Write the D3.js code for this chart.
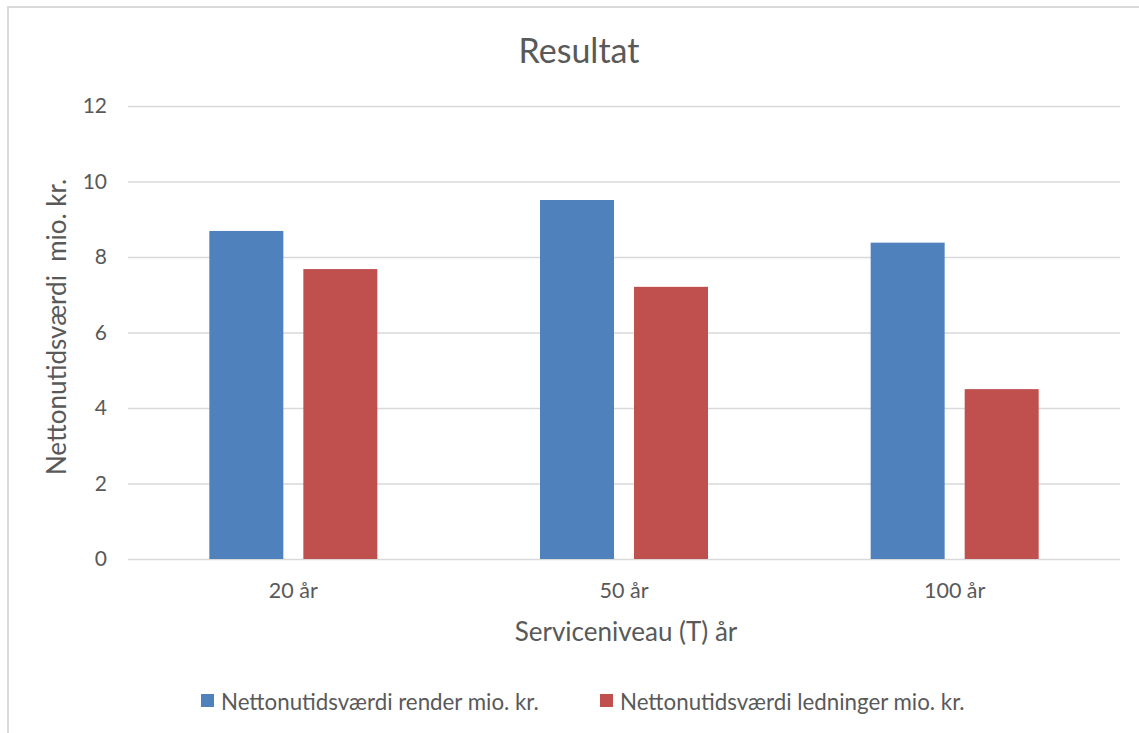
<!DOCTYPE html>
<html>
<head>
<meta charset="utf-8">
<script src="https://cdn.jsdelivr.net/npm/d3@7"></script>
<style>
  html, body { margin: 0; padding: 0; background: #fff; }
  svg { display: block; font-family: Lato, "Open Sans", sans-serif; }
</style>
</head>
<body>
<svg id="chart" width="1139" height="733"></svg>
<script>
// data
const categories = ["20 år", "50 år", "100 år"];
const seriesNames = ["Nettonutidsværdi render mio. kr.", "Nettonutidsværdi ledninger mio. kr."];
const renderValues = [8.69, 9.51, 8.38];
const ledningerValues = [7.68, 7.21, 4.50];
const yTicks = [0, 2, 4, 6, 8, 10, 12];
const colors = ["#4f81bd", "#c0504d"];

const svg = d3.select("#chart");
const plot = { left: 128, right: 1120, top: 106, bottom: 559 };
const fontFamily = "Lato, 'Open Sans', sans-serif";

// frame of the chart area (right and bottom edges run off the picture)
svg.append("rect")
    .attr("x", 8).attr("y", 7)
    .attr("width", 1150).attr("height", 760)
    .attr("fill", "none")
    .attr("stroke", "#d9d9d9")
    .attr("stroke-width", 2);

const x0 = d3.scaleBand()
    .domain(categories)
    .range([plot.left, plot.right]);

const groupW = 168;
const x1 = d3.scaleBand()
    .domain(seriesNames)
    .range([(x0.bandwidth() - groupW) / 2, (x0.bandwidth() + groupW) / 2])
    .paddingInner(0.213);

const y = d3.scaleLinear()
    .domain([0, 12])
    .range([plot.bottom, plot.top]);

// gridlines + y tick labels
const yAxis = d3.axisLeft(y)
    .tickValues(yTicks)
    .tickSize(-(plot.right - plot.left))
    .tickPadding(21);

const gy = svg.append("g")
    .attr("transform", "translate(" + plot.left + ",0)")
    .call(yAxis)
    .attr("font-family", fontFamily);
gy.select(".domain").remove();
gy.selectAll(".tick line")
    .attr("stroke", "#d9d9d9")
    .attr("stroke-width", 1.5);
gy.selectAll(".tick text")
    .attr("fill", "#595959")
    .style("font-size", "21px");

// bars
const table = categories.map((c, i) => ({
    cat: c,
    values: [
        { name: seriesNames[0], v: renderValues[i] },
        { name: seriesNames[1], v: ledningerValues[i] }
    ]
}));

svg.append("g").selectAll("g")
    .data(table)
    .join("g")
    .attr("transform", d => "translate(" + x0(d.cat) + ",0)")
    .selectAll("rect")
    .data(d => d.values)
    .join("rect")
    .attr("x", d => x1(d.name))
    .attr("y", d => y(d.v))
    .attr("width", x1.bandwidth())
    .attr("height", d => y(0) - y(d.v))
    .attr("fill", (d, i) => colors[i]);

// x axis labels
const xAxis = d3.axisBottom(x0).tickSize(0).tickPadding(24);
const gx = svg.append("g")
    .attr("transform", "translate(0," + plot.bottom + ")")
    .call(xAxis)
    .attr("font-family", fontFamily);
gx.select(".domain").remove();
gx.selectAll(".tick text")
    .attr("fill", "#595959")
    .style("font-size", "21.5px");

// titles
svg.append("text")
    .attr("x", 579).attr("y", 63)
    .attr("text-anchor", "middle")
    .attr("fill", "#595959")
    .style("font-size", "34px")
    .text("Resultat");

svg.append("text")
    .attr("x", 626).attr("y", 641)
    .attr("text-anchor", "middle")
    .attr("fill", "#595959")
    .style("font-size", "26px")
    .text("Serviceniveau (T) år");

svg.append("text")
    .attr("transform", "translate(66,327) rotate(-90)")
    .attr("text-anchor", "middle")
    .attr("fill", "#595959")
    .style("font-size", "26px")
    .style("white-space", "pre")
    .text("Nettonutidsværdi  mio. kr.");

// legend
const legendX = [201, 600];
const legend = svg.append("g").selectAll("g")
    .data(seriesNames)
    .join("g")
    .attr("transform", (d, i) => "translate(" + legendX[i] + ",694)");
legend.append("rect")
    .attr("width", 13).attr("height", 13)
    .attr("fill", (d, i) => colors[i]);
legend.append("text")
    .attr("x", 20).attr("y", 16)
    .attr("fill", "#595959")
    .style("font-size", "22.3px")
    .text(d => d);
</script>
</body>
</html>
